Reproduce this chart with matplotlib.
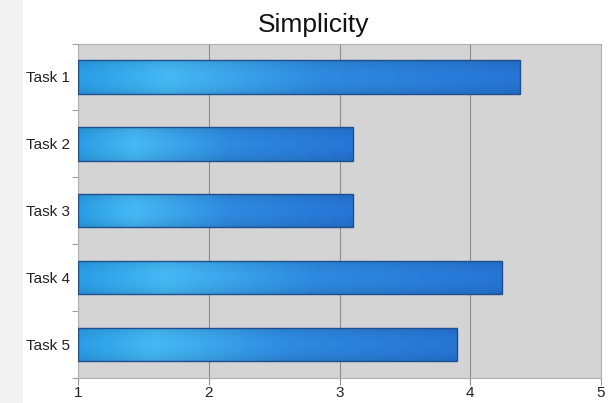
import numpy as np
import matplotlib.pyplot as plt
from matplotlib.patches import Rectangle
from matplotlib.colors import LinearSegmentedColormap

tasks = ['Task 1', 'Task 2', 'Task 3', 'Task 4', 'Task 5']
scores = [4.38, 3.10, 3.10, 4.24, 3.90]
xticks = [1, 2, 3, 4, 5]

# horizontal shading along each bar
shade = LinearSegmentedColormap.from_list('shade', [
    (0.00, '#2a9de6'),
    (0.20, '#45b9f5'),
    (0.55, '#2e8ae0'),
    (1.00, '#2675d6'),
])


def bar_gradient(n=200, m=40):
    t = np.linspace(0, 1, n)
    rgb = shade(t)[:, :3]
    v = np.linspace(-1, 1, m)
    light = 1.0 - 0.10 * v ** 2
    img = rgb[None, :, :] * light[:, None, None]
    return np.clip(img, 0, 1)


def main():
    fig = plt.figure(figsize=(6.11, 4.03), dpi=100)
    fig.patch.set_facecolor('white')
    fig.patches.append(Rectangle((0, 0), 23 / 611, 1, transform=fig.transFigure,
                                 facecolor='#f3f3f3', edgecolor='none', zorder=0))
    ax = fig.add_axes([0.1277, 0.062, 0.8559, 0.830])
    ax.set_facecolor('#d4d4d4')

    y = np.arange(len(tasks))
    bars = ax.barh(y, [s - 1 for s in scores], left=1, height=0.5,
                   facecolor='none', edgecolor='#1f4f8e', linewidth=1.0, zorder=3)
    img = bar_gradient()
    for b in bars:
        x0, y0 = b.get_x(), b.get_y()
        w, h = b.get_width(), b.get_height()
        im = ax.imshow(img, extent=(x0, x0 + w, y0 + h, y0), aspect='auto',
                       interpolation='bilinear', zorder=2)
        im.set_clip_path(b)

    ax.set_xlim(1, 5)
    ax.set_ylim(len(tasks) - 0.5, -0.5)
    ax.set_xticks(xticks)
    ax.set_xticklabels([str(v) for v in xticks], fontsize=11,
                       fontfamily='Liberation Sans', color='#222222')
    ax.set_yticks(y)
    ax.set_yticklabels(tasks, fontsize=11, fontfamily='Liberation Sans', color='#222222')
    ax.tick_params(axis='y', length=0, pad=6)
    ax.set_yticks(np.arange(len(tasks) + 1) - 0.5, minor=True)
    ax.tick_params(axis='y', which='minor', length=4, color='#a0a0a0', width=0.8)
    ax.tick_params(axis='x', length=5, color='#909090', width=0.8, pad=1)

    ax.grid(True, axis='x', color='#8c8c8c', linewidth=0.8, zorder=1)
    ax.set_axisbelow(True)
    for side in ax.spines.values():
        side.set_color('#b0b0b0')
        side.set_linewidth(0.8)

    ax.set_title('Simplicity', fontsize=19, fontfamily='Liberation Sans',
                 color='#111111', pad=8, x=0.451)
    fig.savefig('out.png', dpi=100)


if __name__ == '__main__':
    main()
